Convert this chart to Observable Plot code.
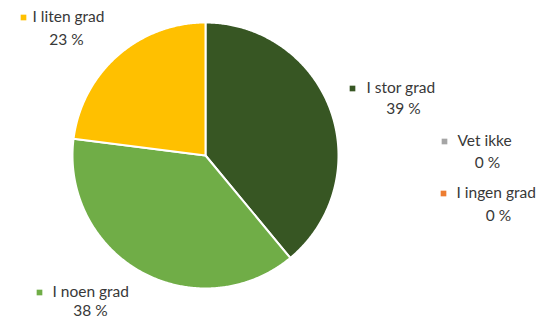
<!DOCTYPE html>
<html><head><meta charset="utf-8">
<script src="https://cdn.jsdelivr.net/npm/d3@7"></script>
<script src="https://cdn.jsdelivr.net/npm/@observablehq/plot@0.6"></script>
<style>body{margin:0;background:#fff}</style>
</head><body><div id="chart"></div>
<script>
// Data
const categories = ["I stor grad", "Vet ikke", "I ingen grad", "I noen grad", "I liten grad"];
const values = [39, 0, 0, 38, 23];
const percentLabels = ["39 %", "0 %", "0 %", "38 %", "23 %"];
const colors = ["#375623", "#A5A5A5", "#ED7D31", "#70AD47", "#FFC000"];

// Layout (pixels)
const W = 542, H = 320, CX = 205, CY = 155, R = 133;
const keyX = [352, 444, 443, 39, 23];
const keyY = [88, 141, 193, 292, 17];
const nameX = [366, 457, 456, 52, 32];
const pctX = [403, 487, 498, 90, 66];
const pctY = [109, 163, 216, 311, 40];

const pie = d3.pie().sort(null).value(d => d.value);
const rows = categories.map((c, i) => ({cat: c, value: values[i], pct: percentLabels[i], i}));
const arcs = pie(rows);
const pts = [];
for (const a of arcs) {
  if (a.data.value <= 0) continue;
  pts.push({cat: a.data.cat, x: CX, y: CY});
  const n = Math.max(2, Math.ceil((a.endAngle - a.startAngle) / (Math.PI / 360)));
  for (let k = 0; k <= n; k++) {
    const t = a.startAngle + (a.endAngle - a.startAngle) * k / n;
    pts.push({cat: a.data.cat, x: CX + R * Math.sin(t), y: CY - R * Math.cos(t)});
  }
}
const labels = rows.map(r => ({...r, kx: keyX[r.i], ky: keyY[r.i], nx: nameX[r.i], px: pctX[r.i], py: pctY[r.i]}));

const chart = Plot.plot({
  width: W, height: H,
  margin: 0,
  x: {domain: [0, W], range: [0, W], axis: null},
  y: {domain: [0, H], range: [0, H], axis: null},
  color: {domain: categories, range: colors},
  style: {fontFamily: "Lato, 'Open Sans', sans-serif", background: "#fff"},
  marks: [
    Plot.line(pts, {x: "x", y: "y", z: "cat", fill: "cat", stroke: "white", strokeWidth: 2, curve: "linear-closed"}),
    Plot.dot(labels, {x: "kx", y: "ky", fill: "cat", symbol: "square", r: 3.2, stroke: null}),
    Plot.text(labels, {x: "nx", y: "ky", text: "cat", textAnchor: "start", fontSize: 15.5, fill: "#383838"}),
    Plot.text(labels, {x: "px", y: "py", text: "pct", fontSize: 15.5, fill: "#383838"})
  ]
});
document.getElementById("chart").appendChild(chart);
</script>
</body></html>
